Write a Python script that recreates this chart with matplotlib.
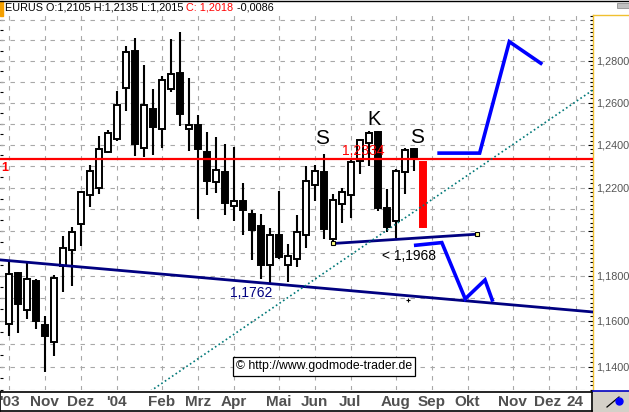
import numpy as np
import matplotlib.pyplot as plt
from matplotlib.ticker import FixedLocator, FuncFormatter, NullFormatter, NullLocator
from matplotlib.lines import Line2D
from matplotlib.patches import Rectangle

# weekly EUR/USD candles, Oct 2003 .. Aug 2004
opens = [1.1588, 1.1812, 1.1649, 1.1778, 1.1580, 1.1508, 1.1844, 1.1915, 1.2033, 1.2166,
         1.2197, 1.2364, 1.2425, 1.2672, 1.2850, 1.2385, 1.2570, 1.2475, 1.2667, 1.2740,
         1.2476, 1.2494, 1.2367, 1.2228, 1.2274, 1.2115, 1.2140, 1.2078, 1.2024, 1.1849,
         1.1983, 1.1849, 1.1876, 1.1984, 1.2214, 1.2274, 1.1967, 1.2127, 1.2167, 1.2326,
         1.2408, 1.2459, 1.2106, 1.2045, 1.2271, 1.2380, 1.2321]
highs = [1.1871, 1.1816, 1.1859, 1.1785, 1.1620, 1.1804, 1.1980, 1.2020, 1.2186, 1.2307,
         1.2441, 1.2470, 1.2654, 1.2875, 1.2910, 1.2780, 1.2667, 1.2728, 1.2905, 1.2942,
         1.2716, 1.2543, 1.2462, 1.2438, 1.2403, 1.2391, 1.2223, 1.2098, 1.2078, 1.2015,
         1.2183, 1.1942, 1.2073, 1.2299, 1.2306, 1.2357, 1.2171, 1.2199, 1.2329, 1.2427,
         1.2467, 1.2467, 1.2194, 1.2287, 1.2383, 1.2387, 1.2321]
lows = [1.1534, 1.1547, 1.1607, 1.1563, 1.1377, 1.1447, 1.1726, 1.1752, 1.1934, 1.2113,
        1.2171, 1.2360, 1.2419, 1.2559, 1.2349, 1.2341, 1.2352, 1.2387, 1.2650, 1.2490,
        1.2369, 1.2054, 1.2166, 1.2175, 1.2074, 1.2045, 1.1983, 1.1872, 1.1785, 1.1762,
        1.1874, 1.1770, 1.1837, 1.1926, 1.2140, 1.1965, 1.1957, 1.2037, 1.2063, 1.2264,
        1.2302, 1.2093, 1.1995, 1.1968, 1.2173, 1.2279, 1.2015]
closes = [1.1806, 1.1674, 1.1784, 1.1599, 1.1534, 1.1788, 1.1925, 1.1999, 1.2178, 1.2279,
          1.2380, 1.2454, 1.2586, 1.2842, 1.2403, 1.2590, 1.2482, 1.2707, 1.2738, 1.2546,
          1.2495, 1.2380, 1.2229, 1.2284, 1.2129, 1.2138, 1.2096, 1.2005, 1.1850, 1.1984,
          1.1886, 1.1890, 1.1998, 1.2229, 1.2276, 1.2010, 1.2144, 1.2178, 1.2318, 1.2422,
          1.2456, 1.2106, 1.2022, 1.2279, 1.2377, 1.2334, 1.2018]

month_idx = [0, 4, 8, 12, 17, 21, 25, 30, 34, 38, 43, 47, 51, 56, 60, 63]
month_lbl = ["'03", "Nov", "Dez", "'04", "Feb", "Mrz", "Apr", "Mai", "Jun", "Jul",
             "Aug", "Sep", "Okt", "Nov", "Dez", "24"]

resistance = 1.2334
support_x = [-1.0, 64.9]
support_y = [1.1871, 1.1639]
tri_x = [36, 52]
tri_y = [1.1945, 1.1987]
up_x = [47.8, 52.3, 55.6, 59.1]
up_y = [1.2361, 1.2361, 1.2894, 1.2789]
down_x = [45.2, 48.1, 50.7, 52.9, 53.7]
down_y = [1.1937, 1.1949, 1.1697, 1.1781, 1.1692]
chan_x = [20, 64]
chan_y = [1.1408, 1.2634]
cross_mark = (44.3, 1.1691)

W, H = 629, 412
fig = plt.figure(figsize=(W / 100, H / 100), dpi=100)
plt.rcParams['font.family'] = ['Liberation Sans', 'DejaVu Sans']

ax = fig.add_axes([0, (H - 390) / H, 593 / W, 375 / H])
ax.set_yscale('log')
ax.set_xlim(-1.0, 64.9)
ax.set_ylim(1.1300, 1.3025)

# grid
for lv in np.arange(1.13, 1.3001, 0.01):
    ax.axhline(lv, color='#a8a8a8', lw=0.8, ls=(0, (4, 5)), zorder=0.5)
for m in month_idx:
    ax.axvline(m, color='#a8a8a8', lw=0.8, ls=(0, (4, 5)), zorder=0.5)

# candles
o = np.array(opens); c = np.array(closes)
x = np.arange(len(o))
lo = np.minimum(o, c); hi = np.maximum(o, c)
fills = ['white' if cc > oo else 'black' for oo, cc in zip(o, c)]
edges = ['black'] * len(o)
wicks = ['black'] * len(o)
fills[-1] = edges[-1] = wicks[-1] = '#ff0000'   # running week
ax.vlines(x, lows, highs, colors=wicks, lw=1.5, zorder=3)
ax.bar(x, hi - lo, bottom=lo, width=0.62, color=fills, edgecolor=edges,
       linewidth=1.4, zorder=4)

# drawings
ax.axhline(resistance, color='#ff0000', lw=1.6, zorder=5)
ax.plot(support_x, support_y, color='#000080', lw=2, zorder=5)
ax.plot(tri_x, tri_y, color='#000080', lw=2, zorder=5,
        marker='s', ms=3.5, mfc='#ffff80', mec='black', mew=0.8)
ax.plot(up_x, up_y, color='#0000ff', lw=2.6, zorder=6, solid_joinstyle='miter')
ax.plot(down_x, down_y, color='#0000ff', lw=2.6, zorder=6, solid_joinstyle='miter')
k = (np.log(chan_y[1]) - np.log(chan_y[0])) / (chan_x[1] - chan_x[0])
cx = np.array([10, 66])
ax.plot(cx, chan_y[0] * np.exp(k * (cx - chan_x[0])), color='#007878', lw=1.2,
        ls=(0, (1, 1.6)), zorder=5)
ax.plot(*cross_mark, marker='+', color='black', ms=3, mew=0.8, zorder=5)

ax.text(34.8, 1.2431, 'S', fontsize=15, ha='center', va='center', zorder=7)
ax.text(40.6, 1.2519, 'K', fontsize=14.5, ha='center', va='center', zorder=7)
ax.text(45.4, 1.2436, 'S', fontsize=15, ha='center', va='center', zorder=7)
ax.text(39.4, 1.2372, '1,2334', fontsize=10, color='#ff0000', ha='center', va='center', zorder=7)
ax.text(26.9, 1.1722, '1,1762', fontsize=10, color='#000080', ha='center', va='center', zorder=7)
ax.text(44.4, 1.1889, '< 1,1968', fontsize=10, color='black', ha='center', va='center', zorder=7)
ax.text(-0.45, 1.2291, '1', fontsize=9, weight='bold', color='#ff0000', ha='center', va='center', zorder=7)

# axes cosmetics
for s in ['top', 'left', 'bottom']:
    ax.spines[s].set_visible(False)
ax.spines['right'].set_color('#f0c030')
ax.spines['right'].set_linewidth(1)
ax.set_xticks([])
ax.yaxis.tick_right()
ax.yaxis.set_major_locator(FixedLocator([1.14, 1.16, 1.18, 1.20, 1.22, 1.24, 1.26, 1.28]))
ax.yaxis.set_major_formatter(FuncFormatter(
    lambda v, p: '' if abs(v - 1.20) < 1e-6 else f"{v:.4f}".replace('.', ',')))
ax.yaxis.set_minor_locator(FixedLocator(np.arange(1.13, 1.3025, 0.002)))
ax.yaxis.set_minor_formatter(NullFormatter())
ax.tick_params(axis='y', which='major', direction='in', length=3.5, width=0.8,
               color='black', labelcolor='#555555', labelsize=7.8, pad=2)
ax.tick_params(axis='y', which='minor', direction='in', length=2, width=0.8, color='black')

sec = ax.secondary_yaxis('left')
sec.yaxis.set_major_locator(FixedLocator(np.arange(1.13, 1.3025, 0.005)))
sec.yaxis.set_minor_locator(NullLocator())
sec.yaxis.set_major_formatter(NullFormatter())
sec.tick_params(direction='in', length=2, width=0.8, labelleft=False)
sec.spines['left'].set_visible(False)

# date strip
sax = fig.add_axes([0, 1 / H, 592 / W, 19.5 / H])
sax.set_xlim(ax.get_xlim())
sax.set_ylim(0, 1)
sax.set_xticks([]); sax.set_yticks([])
for s in sax.spines.values():
    s.set_linewidth(1.2)
for m, lab in zip(month_idx, month_lbl):
    sax.text(m, 0.48, lab, ha='center', va='center', fontsize=11, weight='bold',
             color='#505050', family=['Liberation Sans Narrow', 'Liberation Sans'])

# header and frame bits
fig.add_artist(Line2D([0, 1], [1 - 0.5 / H] * 2, color='black', lw=1))
fig.add_artist(Rectangle((0, 1 - 16 / H), 3.5 / W, 15 / H, color='#f5a000'))
fig.add_artist(Rectangle((617 / W, 1 - 8 / H), 12 / W, 5 / H, fc='#c0c0c0', ec='#808080', lw=0.5))
fig.add_artist(Line2D([593 / W, 1], [1 - 15 / H] * 2, color='#f0c030', lw=1))
fig.add_artist(Rectangle((593 / W, 0), 36 / W, 21 / H, fc='#d4d0c8', ec='none'))
fig.add_artist(Line2D([593 / W, 1], [21.5 / H] * 2, color='#0000c0', lw=1.2))
fig.add_artist(Line2D([607 / W, 619 / W], [5 / H, 15 / H], color='black', lw=0.9))
fig.add_artist(Line2D([619 / W], [11 / H], marker='o', ms=5, color='#0000ff'))

parts = [("EURUS O:1,2105 H:1,2135 L:1,2015 ", 'black'), ("C: 1,2018", '#ff0000'), (" -0,0086", 'black')]
fig.canvas.draw()
r = fig.canvas.get_renderer()
xpos = 5 / W
for txt, col in parts:
    t = fig.text(xpos, 1 - 8 / H, txt, fontsize=7.8, color=col, va='center', ha='left')
    bb = t.get_window_extent(renderer=r)
    xpos = bb.x1 / (W)

fig.text(324 / W, 1 - 366.5 / H, "\u00a9 http://www.godmode-trader.de", ha='center', va='center',
         fontsize=8.8, bbox=dict(boxstyle='square,pad=0.25', fc='white', ec='black', lw=0.9))

fig.savefig('out.png', dpi=100)
